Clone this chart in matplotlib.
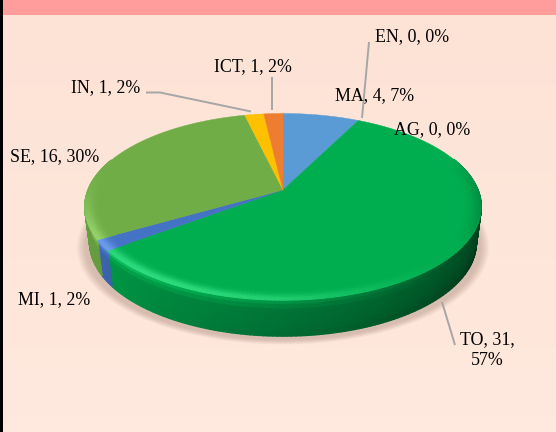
import numpy as np
import matplotlib
matplotlib.use("Agg")
import matplotlib.pyplot as plt
from matplotlib.collections import PolyCollection
from matplotlib.colors import to_rgb
from matplotlib.patches import Rectangle

names = ["MA", "AG", "TO", "MI", "SE", "IN", "ICT", "EN"]
values = [4, 0, 31, 1, 16, 1, 1, 0]
percents = ["7%", "0%", "57%", "2%", "30%", "2%", "2%", "0%"]
colors = ["#5B9BD5", "#00A650", "#00AE50", "#4472C4", "#70AD47", "#FFC000", "#ED7D31", "#A5A5A5"]

# label centres in pixels
label_pos = {"MA": (375, 96), "AG": (432, 130), "TO": (487, 350), "MI": (54, 300),
             "SE": (55, 157), "IN": (106, 88), "ICT": (253, 67), "EN": (412, 37)}

# leader lines in pixels
leaders = [[(369, 42), (362, 118)], [(271.5, 77), (271.5, 110)],
           [(146, 92.5), (160, 92.5), (251, 111.5)], [(442, 302), (455, 345)]]

cx, cy = 283, 190
sx, sy = 195, 90.3
k = 0.18
depth = 36


def project(phi, r=1.0):
    # phi clockwise from top, tilted circle with the near side bigger
    u = r * np.sin(phi)
    v = r * np.cos(phi)
    d = 1 + k * v
    return cx + sx * u / d, cy - sy * v / d


def lower(x, y, t):
    # point on the side wall, t=0 top rim, t=1 bottom rim (a bit narrower)
    return cx + (x - cx) * (1 - 0.025 * t), y + depth * t


def shade(c, a):
    # a > 0 adds light, a < 0 goes to black
    c = np.array(c)
    if a >= 0:
        return tuple(np.clip(c + a, 0, 1))
    return tuple(c * (1 + a))


fig = plt.figure(figsize=(5.56, 4.32), dpi=100)
ax = fig.add_axes([0, 0, 1, 1])
ax.axis("off")

# background
ax.imshow(np.linspace(0, 1, 50).reshape(-1, 1), extent=(0, 556, 432, 0), aspect="auto", zorder=0,
          cmap=matplotlib.colors.LinearSegmentedColormap.from_list("bg", ["#FDE3D6", "#FFE8DD"]))
ax.set_xlim(0, 556)
ax.set_ylim(432, 0)
ax.add_patch(Rectangle((0, 0), 556, 15, color="#FF9D9D", lw=0, zorder=1))
ax.add_patch(Rectangle((0, 0), 3, 432, color="black", lw=0, zorder=2))

# soft shadow under the pie
ring = np.linspace(0, 2 * np.pi, 200)
for grow in np.linspace(1.04, 1.0, 9):
    px, py = project(ring)
    px = cx + (px - cx) * grow
    py = cy + depth + 4 + (py - cy) * grow
    ax.fill(px, py, color="#8A6A5A", alpha=0.04, lw=0, zorder=3)

total = sum(values)
edges = 2 * np.pi * np.cumsum([0] + values) / total

# side wall, split in short quads so the shading can follow the angle
polys, cols = [], []
for i in range(len(values)):
    if values[i] == 0:
        continue
    base = to_rgb(colors[i])
    phis = np.arange(edges[i], edges[i + 1] + 0.02, 0.02)
    phis[-1] = edges[i + 1]
    for a, b in zip(phis[:-1], phis[1:]):
        if np.cos((a + b) / 2) > 0.35:
            continue
        x0, y0 = project(a)
        x1, y1 = project(b)
        mid = (a + b) / 2
        f = np.clip((mid - np.pi / 2) / (np.pi * 0.85), 0, 1)
        light = -0.68 + 0.58 * f
        lit = max(np.cos(mid - np.radians(215)), 0)
        for s in range(8):
            t0, t1 = s / 8, (s + 1) / 8
            p0, p1 = lower(x0, y0, t0), lower(x1, y1, t0)
            p2, p3 = lower(x1, y1, t1), lower(x0, y0, t1)
            polys.append([p0, p1, p2, p3])
            amt = light - 0.1 * (1 - f) * t1 ** 3 + 0.22 * lit * np.exp(-(t0 / 0.14) ** 2)
            cols.append(shade(base, amt))
ax.add_collection(PolyCollection(polys, facecolors=cols, edgecolors=cols, linewidths=1.0, zorder=4))

# top face
for i in range(len(values)):
    if values[i] == 0:
        continue
    phis = np.linspace(edges[i], edges[i + 1], 80)
    px, py = project(phis)
    ax.fill(np.r_[cx, px], np.r_[cy, py], color=colors[i], lw=0.3, zorder=5)

# bevel along the front of the rim
polys, cols = [], []
radii = np.linspace(0.9, 1.0, 11)
for i in range(len(values)):
    if values[i] == 0:
        continue
    base = to_rgb(colors[i])
    phis = np.arange(edges[i], edges[i + 1] + 0.02, 0.02)
    phis[-1] = edges[i + 1]
    for a, b in zip(phis[:-1], phis[1:]):
        mid = (a + b) / 2
        front = np.clip(0.35 - np.cos(mid), 0, 1)
        if front <= 0:
            continue
        front = min(front / 0.7, 1)
        lit = np.cos(mid - np.radians(215))
        for r0, r1 in zip(radii[:-1], radii[1:]):
            w = ((r0 + r1) / 2 - 0.9) / 0.1
            if lit > 0:
                amt = 0.18 * lit ** 2 * np.exp(-((w - 0.95) / 0.35) ** 2) * front
            else:
                amt = 0.6 * lit * w ** 2 * front
            pts = [project(a, r0), project(b, r0), project(b, r1), project(a, r1)]
            polys.append(pts)
            cols.append(shade(base, amt))
ax.add_collection(PolyCollection(polys, facecolors=cols, edgecolors=cols, linewidths=0.8, zorder=6))

# leaders
for line in leaders:
    ax.plot([p[0] for p in line], [p[1] for p in line], color="#A6A6A6", lw=1.4, zorder=7,
            solid_capstyle="butt", solid_joinstyle="miter")

# labels
for name, value, pct in zip(names, values, percents):
    text = f"{name}, {value}, {pct}"
    if name == "TO":
        text = f"{name}, {value},\n{pct}"
    ax.text(label_pos[name][0], label_pos[name][1], text, family="Liberation Serif", fontsize=12.9,
            color="#000000", ha="center", va="center", linespacing=1.3, zorder=8)

fig.savefig("out.png", dpi=100)
